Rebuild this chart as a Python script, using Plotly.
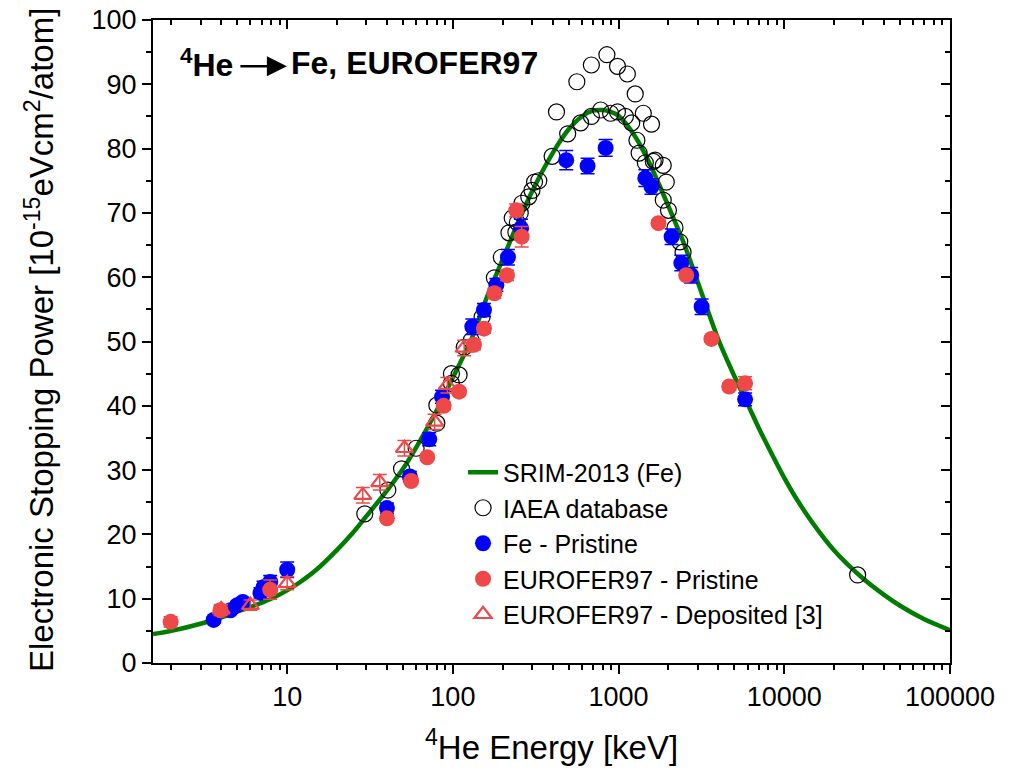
import math
import plotly.graph_objects as go

# ---------------- data ----------------
srim_E = [1.55, 2, 3, 4, 5, 6, 8, 10, 12, 15, 20, 25, 30, 40, 50, 60, 80, 100, 130, 160,
          200, 250, 300, 400, 500, 600, 700, 800, 900, 1000, 1250, 1500, 1750, 2000, 2500,
          3000, 4000, 5000, 6000, 7000, 8000, 10000, 12000, 15000, 20000, 30000, 40000,
          50000, 70000, 100000]
srim_S = [4.5, 5.0, 6.1, 7.1, 8.0, 8.7, 10.0, 11.3, 12.6, 14.5, 17.6, 20.3, 22.8, 26.8,
          30.2, 33.5, 39.3, 44.4, 50.5, 56.8, 62.8, 68.8, 73.3, 79.3, 83.0, 85.0, 85.9,
          86.0, 85.7, 85.1, 82.0, 78.3, 74.5, 71.0, 65.0, 59.3, 50.3, 44.6, 40.3, 36.6,
          33.6, 28.8, 25.3, 21.6, 17.5, 13.1, 10.6, 8.9, 6.8, 5.1]

iaea_E = [29.4, 40.5, 49, 60, 80, 80, 98, 98, 109, 117, 129, 150, 178, 196, 218, 228, 240,
          245, 255, 261, 287, 300, 311, 330, 397, 422, 493, 560, 590, 685, 685, 780, 850,
          895, 985, 985, 1100, 1130, 1200, 1260, 1290, 1330, 1410, 1450, 1580, 1620, 1660,
          1860, 1940, 1860, 2000, 2190, 2340, 2450, 27700]
iaea_S = [23.2, 26.9, 30.2, 33.4, 37.3, 40.1, 43.5, 45.0, 44.8, 49.1, 50.2, 53.8, 59.9, 63.1,
          66.9, 69.2, 67.0, 68.5, 70.0, 71.5, 72.5, 73.5, 74.8, 75.0, 78.8, 85.7, 82.3, 90.4,
          84.0, 93.0, 85.0, 86.0, 94.6, 85.5, 92.8, 85.7, 85.0, 91.6, 84.0, 88.5, 81.3, 79.3,
          85.5, 77.8, 83.8, 78.0, 78.2, 77.4, 74.8, 72.0, 70.4, 67.7, 65.5, 63.9, 13.7]

fe_E = [3.6, 4.55, 5.0, 5.4, 6.9, 7.2, 7.9, 10, 40, 55, 72, 86, 131, 154, 183, 215, 258,
        483, 650, 835, 1450, 1580, 2090, 2390, 2740, 3170, 5800]
fe_S = [6.7, 8.2, 9.0, 9.5, 10.9, 11.8, 12.6, 14.5, 24.1, 29.0, 34.8, 41.4, 52.3, 54.9, 58.8,
        63.1, 67.6, 78.2, 77.3, 80.1, 75.4, 74.1, 66.3, 62.2, 60.3, 55.4, 41.0]
fe_err = [0.5, 0.5, 0.6, 0.6, 0.8, 0.9, 1.0, 1.2, 0.8, 0.8, 1.0, 1.0, 1.2, 1.0, 1.0, 1.2, 1.4,
          1.5, 1.2, 1.3, 1.3, 1.2, 1.2, 1.2, 1.2, 1.2, 1.0]

eu_E = [1.98, 3.96, 7.9, 40, 56, 70, 88, 109, 134, 154, 178, 212, 241, 260, 1740, 2560,
        3630, 4650, 5800]
eu_S = [6.4, 8.2, 11.4, 22.5, 28.3, 32.0, 40.0, 42.2, 49.5, 52.0, 57.5, 60.3, 70.4, 66.3,
        68.4, 60.3, 50.4, 43.0, 43.5]
eu_err = [0.8, 0.8, 1.5, 0.5, 0.5, 0.5, 0.6, 0.6, 0.8, 0.7, 0.8, 0.8, 1.0, 1.6, 0.5, 0.5,
          0.5, 0.5, 1.0]

dep_E = [4.0, 6.0, 10, 28.6, 36.2, 51, 77.6, 92.6, 117]
dep_S = [8.3, 9.0, 12.4, 26.1, 28.1, 33.4, 37.5, 43.2, 49.0]
dep_err = [0.8, 0.8, 1.0, 1.2, 1.2, 1.2, 1.2, 1.2, 1.2]

x_range = [1.55, 100000]
y_range = [0, 100]
x_ticks = [10, 100, 1000, 10000, 100000]
x_ticktext = ["10", "100", "1000", "10000", "100000"]

# ---------------- style ----------------
FONT = "Arial, Liberation Sans, sans-serif"
GREEN = "#007d00"
BLUE = "#0000ff"
RED = "#ef4848"

fig = go.Figure()

fig.add_trace(go.Scatter(x=srim_E, y=srim_S, mode="lines", name="SRIM-2013 (Fe)",
                         line=dict(color=GREEN, width=4.5, shape="spline", smoothing=0.8)))
fig.add_trace(go.Scatter(x=iaea_E, y=iaea_S, mode="markers", name="IAEA database",
                         marker=dict(symbol="circle-open", size=16, color="black",
                                     line=dict(width=1.2, color="black"))))
fig.add_trace(go.Scatter(x=fe_E, y=fe_S, mode="markers", name="Fe - Pristine",
                         marker=dict(symbol="circle", size=16, color=BLUE),
                         error_y=dict(type="data", array=fe_err, color=BLUE,
                                      thickness=1.5, width=7)))
fig.add_trace(go.Scatter(x=eu_E, y=eu_S, mode="markers", name="EUROFER97 - Pristine",
                         marker=dict(symbol="circle", size=16, color=RED),
                         error_y=dict(type="data", array=eu_err, color=RED,
                                      thickness=1.5, width=7)))
fig.add_trace(go.Scatter(x=dep_E, y=dep_S, mode="markers",
                         name="EUROFER97 - Deposited [3]",
                         marker=dict(symbol="triangle-up-open", size=15, color=RED,
                                     line=dict(width=2.2, color=RED)),
                         error_y=dict(type="data", array=dep_err, color=RED,
                                      thickness=1.5, width=7)))
# dummy trace for mirrored (top/right) axes with inward ticks
fig.add_trace(go.Scatter(x=[10], y=[50], xaxis="x2", yaxis="y2", mode="markers",
                         marker=dict(opacity=0), showlegend=False, hoverinfo="skip"))

lx = [math.log10(x_range[0]), math.log10(x_range[1])]

fig.update_layout(
    width=1020, height=770,
    margin=dict(l=153, r=70, t=20, b=107, autoexpand=False),
    plot_bgcolor="white", paper_bgcolor="white",
    font=dict(family=FONT, color="black", size=26),
    showlegend=True,
    legend=dict(x=0.389, y=0.332, xanchor="left", yanchor="top",
                bgcolor="rgba(0,0,0,0)", font=dict(size=25, family=FONT),
                tracegroupgap=0),
    xaxis=dict(type="log", range=lx, showgrid=False, zeroline=False, automargin=False,
               showline=True, linecolor="black", linewidth=2, mirror=False,
               ticks="outside", ticklen=9, tickwidth=2, tickcolor="black",
               tickvals=x_ticks, ticktext=x_ticktext,
               tickfont=dict(size=27),
               minor=dict(ticks="outside", ticklen=5, tickwidth=1.5,
                          tickcolor="black", dtick="D1", showgrid=False)),
    yaxis=dict(range=y_range, showgrid=False, zeroline=False, automargin=False,
               showline=True, linecolor="black", linewidth=2, mirror=False,
               ticks="outside", ticklen=9, tickwidth=2, tickcolor="black",
               dtick=10, tickfont=dict(size=27),
               minor=dict(ticks="outside", ticklen=5, tickwidth=1.5,
                          tickcolor="black", dtick=5, showgrid=False)),
    xaxis2=dict(type="log", range=lx, overlaying="x", side="top", anchor="y2",
                automargin=False,
                showgrid=False, zeroline=False, showline=True, linecolor="black",
                linewidth=2, ticks="inside", ticklen=9, tickwidth=2,
                tickcolor="black", tickvals=x_ticks,
                showticklabels=False,
                minor=dict(ticks="inside", ticklen=5, tickwidth=1.5,
                           tickcolor="black", dtick="D1", showgrid=False)),
    yaxis2=dict(range=y_range, overlaying="y", side="right", anchor="x2",
                automargin=False,
                showgrid=False, zeroline=False, showline=True, linecolor="black",
                linewidth=2, ticks="inside", ticklen=9, tickwidth=2,
                tickcolor="black", dtick=10, showticklabels=False,
                minor=dict(ticks="inside", ticklen=5, tickwidth=1.5,
                           tickcolor="black", dtick=5, showgrid=False)),
)

annotations = [
    dict(text="Electronic Stopping Power [10<sup>-15</sup>eVcm<sup>2</sup>/atom]",
         xref="paper", yref="paper", x=-0.142, y=0.502, xanchor="center",
         yanchor="middle", textangle=-90, showarrow=False,
         font=dict(size=33, family=FONT)),
    dict(text="<sup>4</sup>He Energy [keV]", xref="paper", yref="paper",
         x=0.5, y=-0.128, xanchor="center", yanchor="middle", showarrow=False,
         font=dict(size=33, family=FONT)),
    dict(text="<b><sup>4</sup>He</b>", xref="paper", yref="paper", x=0.031, y=0.933,
         xanchor="left", yanchor="middle", showarrow=False,
         font=dict(size=32, family=FONT)),
    dict(text="", xref="paper", yref="paper", x=0.168, y=0.928, ax=-48, ay=0,
         showarrow=True, arrowhead=2, arrowsize=1.6, arrowwidth=2.5,
         arrowcolor="black"),
    dict(text="<b>Fe, EUROFER97</b>", xref="paper", yref="paper", x=0.171, y=0.933,
         xanchor="left", yanchor="middle", showarrow=False,
         font=dict(size=32, family=FONT)),
]
fig.update_layout(annotations=annotations)

fig.write_html("out.html")
